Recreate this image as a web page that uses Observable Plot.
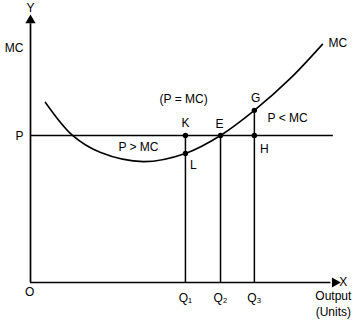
<!DOCTYPE html>
<html><head><meta charset="utf-8">
<script src="https://cdn.jsdelivr.net/npm/d3@7"></script>
<script src="https://cdn.jsdelivr.net/npm/@observablehq/plot@0.6"></script>
<style>body{margin:0;background:#fff;} svg{font-family:"Liberation Sans",Arial,sans-serif;}</style>
</head><body><div id="chart"></div>
<script>
// MC curve points (output, cost) in arbitrary units
const mcX = [4.9, 13.8, 23.0, 37.0, 50.8, 62.3, 73.4, 85.2, 95.7];
const mcY = [68.2, 55.7, 49.2, 45.8, 48.9, 55.7, 65.2, 77.3, 90.2];
const priceP = 55.7;
const qNames = ["Q₁", "Q₂", "Q₃"];
const qX = [50.8, 62.3, 73.4];
const qTop = [55.7, 55.7, 65.2]; // K, E, G heights
const pointNames = ["K", "L", "E", "G", "H"];
const pointX = [50.8, 50.8, 62.3, 73.4, 73.4];
const pointY = [55.7, 48.9, 55.7, 65.2, 55.7];
const labelText = ["(P = MC)", "P > MC", "P < MC", "K", "E", "G", "H", "L"];
const labelX = [50.2, 35.4, 84.3, 50.8, 62.0, 73.8, 76.7, 53.4];
const labelY = [69.3, 51.1, 62.1, 60.2, 59.8, 69.7, 50.4, 44.3];

const mc = mcX.map((x, i) => ({x, y: mcY[i]}));
const qs = qNames.map((n, i) => ({n, x: qX[i], top: qTop[i]}));
const pts = pointNames.map((n, i) => ({n, x: pointX[i], y: pointY[i]}));
const labels = labelText.map((t, i) => ({t, x: labelX[i], y: labelY[i]}));

const chart = Plot.plot({
  width: 359, height: 324,
  marginLeft: 30, marginRight: 24, marginTop: 18, marginBottom: 42,
  x: {domain: [0, 100], axis: null},
  y: {domain: [0, 100], axis: null},
  style: {background: "#fff", fontSize: "12px", fontFamily: "Liberation Sans, Arial, sans-serif", color: "#000"},
  marks: [
    // axes
    Plot.ruleX([0], {y1: 0, y2: 98, stroke: "#000", strokeWidth: 1.7}),
    Plot.ruleY([0], {x1: 0, x2: 98.5, stroke: "#000", strokeWidth: 1.7}),
    Plot.dot([{x: 0, y: 99.3}], {x: "x", y: "y", symbol: "triangle", r: 3.8, fill: "#000", stroke: null}),
    Plot.dot([{x: 99.8, y: 0}], {x: "x", y: "y", symbol: "triangle", r: 3.8, fill: "#000", stroke: null, rotate: 90}),
    // price line
    Plot.ruleY([priceP], {x1: 0, x2: 99.3, stroke: "#000", strokeWidth: 1.5}),
    // verticals
    Plot.ruleX(qs, {x: "x", y1: 0, y2: "top", stroke: "#000", strokeWidth: 1.5}),
    // MC curve
    Plot.line(mc, {x: "x", y: "y", curve: "catmull-rom", stroke: "#000", strokeWidth: 1.6}),
    // points
    Plot.dot(pts, {x: "x", y: "y", r: 2.7, fill: "#000", stroke: null}),
    // labels
    Plot.text(labels, {x: "x", y: "y", text: "t", fill: "#000"}),
    Plot.text(qs, {x: "x", y: -6, text: "n", fill: "#000"}),
    Plot.text(["Y"], {x: 0, y: 103.8, text: d => d, fill: "#000"}),
    Plot.text(["MC"], {x: -2.3, y: 88.6, text: d => d, textAnchor: "end", fill: "#000"}),
    Plot.text(["P"], {x: -2.3, y: 55.3, text: d => d, textAnchor: "end", fill: "#000"}),
    Plot.text(["O"], {x: -0.3, y: -3.8, text: d => d, fill: "#000"}),
    Plot.text(["MC"], {x: 97.7, y: 90.5, text: d => d, textAnchor: "start", fill: "#000"}),
    Plot.text(["X"], {x: 101.2, y: 0, text: d => d, textAnchor: "start", fill: "#000"}),
    Plot.text(["Output"], {x: 99.3, y: -5.3, text: d => d, fill: "#000"}),
    Plot.text(["(Units)"], {x: 99.3, y: -11.4, text: d => d, fill: "#000"})
  ]
});
document.getElementById("chart").appendChild(chart);
</script></body></html>
